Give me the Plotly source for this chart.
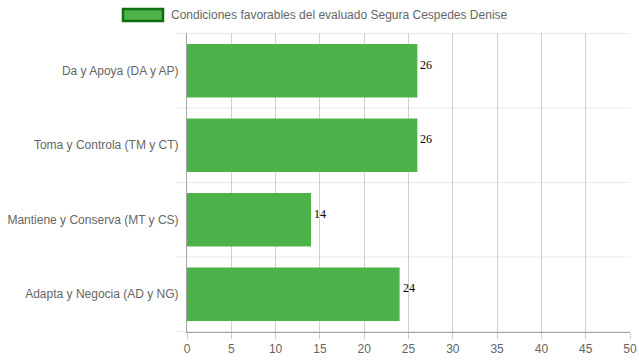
import plotly.graph_objects as go

categories = ["Da y Apoya (DA y AP)", "Toma y Controla (TM y CT)",
              "Mantiene y Conserva (MT y CS)", "Adapta y Negocia (AD y NG)"]
values = [26, 26, 14, 24]
series_name = "Condiciones favorables del evaluado Segura Cespedes Denise"
x_ticks = [0, 5, 10, 15, 20, 25, 30, 35, 40, 45, 50]

GREEN = "rgb(77,178,74)"
W, H = 639, 360
ML, MR, MT, MB = 187, 9, 33, 28
PW = W - ML - MR
PH = H - MT - MB

fig = go.Figure()
fig.add_trace(go.Bar(
    y=categories, x=values, orientation="h",
    marker=dict(color=GREEN, line=dict(width=0)),
    name=series_name, showlegend=False, hoverinfo="x+y",
))

# value labels
for c, v in zip(categories, values):
    fig.add_annotation(x=v, y=c, text=str(v), showarrow=False,
                       xanchor="left", yanchor="middle", xshift=1, yshift=6,
                       font=dict(family="Liberation Serif, Times New Roman, serif",
                                 size=12, color="#000"))

# category boundary lines (offset gridlines)
n = len(categories)
for i in range(n + 1):
    fig.add_shape(type="line", xref="paper", yref="y",
                  x0=-11 / PW, x1=1, y0=i - 0.5, y1=i - 0.5,
                  line=dict(color="rgba(0,0,0,0.08)", width=1), layer="below")

# manual legend
fig.add_shape(type="rect", xref="paper", yref="paper",
              x0=(123 - ML) / PW, x1=(163 - ML) / PW,
              y0=1 + (MT - 21) / PH, y1=1 + (MT - 9) / PH,
              fillcolor=GREEN, line=dict(color="rgb(15,110,15)", width=2.5))
fig.add_annotation(xref="paper", yref="paper",
                   x=(169 - ML) / PW, y=1 + (MT - 15) / PH,
                   text=series_name, showarrow=False, xanchor="left", yanchor="middle",
                   font=dict(family="Liberation Sans, Arial, sans-serif", size=12, color="#666"))

fig.update_layout(
    width=W, height=H,
    margin=dict(l=ML, r=MR, t=MT, b=MB, pad=0, autoexpand=False),
    plot_bgcolor="white", paper_bgcolor="white",
    bargap=0.28,
    font=dict(family="Liberation Sans, Arial, sans-serif", size=12, color="#666"),
    xaxis=dict(range=[0, 50], tickvals=x_ticks, showgrid=True,
               gridcolor="rgba(0,0,0,0.18)", gridwidth=1,
               zeroline=False, showline=True, linecolor="rgba(0,0,0,0.35)",
               ticks="outside", ticklen=6, tickcolor="rgba(0,0,0,0.2)",
               tickfont=dict(size=12, color="#666"), layer="above traces",
               automargin=False, fixedrange=True),
    yaxis=dict(categoryorder="array", categoryarray=categories, autorange="reversed",
               showgrid=False, zeroline=False, showline=True,
               linecolor="rgba(0,0,0,0.35)", ticks="", ticklabelstandoff=5,
               tickfont=dict(size=12, color="#666"), automargin=False, fixedrange=True),
)

fig.write_html("out.html", config={"displayModeBar": False, "staticPlot": True},
               post_script="document.body.style.margin='0';document.body.style.overflow='hidden';")
